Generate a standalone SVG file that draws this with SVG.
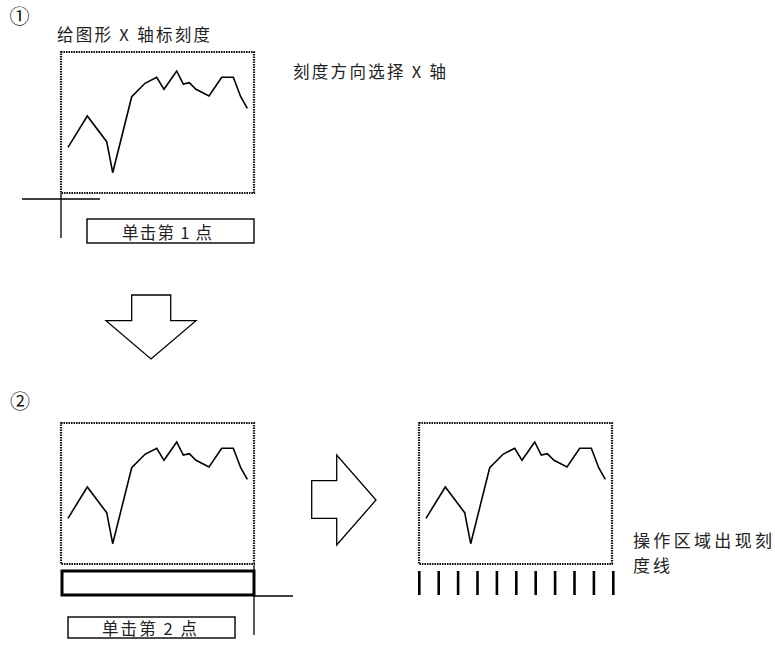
<svg xmlns="http://www.w3.org/2000/svg" xmlns:xlink="http://www.w3.org/1999/xlink" width="775" height="650" viewBox="0 0 775 650">
<style>
  .t { font-family: "Noto Sans CJK SC", "Liberation Serif", sans-serif; font-size: 16.5px; fill: #222; }
  .num { font-family: "Noto Sans CJK SC", "DejaVu Sans", sans-serif; font-size: 20px; fill: #111; }
  .dot { fill: none; stroke: #111; stroke-width: 2.2; stroke-dasharray: 1.6 0.9; }
  .chart { fill: none; stroke: #000; stroke-width: 1.6; stroke-linejoin: miter; }
  .thin { fill: none; stroke: #000; stroke-width: 1.3; }
  .box { fill: #fff; stroke: #000; stroke-width: 1.4; }
  .arrow { fill: #fff; stroke: #000; stroke-width: 1.3; stroke-linejoin: miter; }
  .tick { stroke: #000; stroke-width: 2.6; }
</style>
<defs>
  <g id="graph">
    <rect class="dot" x="61" y="52" width="193" height="141"/>
    <polyline class="chart" points="68,147.3 87.3,116 106.7,141.7 112.7,172.7 131.7,96.7 145,83.3 156.7,77.3 164,89.3 176.7,71 183.3,84 189.3,82.7 196,89.3 209,96 221.7,77.3 233.3,77.3 240.7,96.7 247.3,108.3"/>
  </g>
</defs>
<rect width="775" height="650" fill="#fff"/>

<g id="step1">
  <text class="num" x="19.5" y="24" text-anchor="middle">①</text>
  <text class="t" x="57" y="41" textLength="153" lengthAdjust="spacing">给图形 X 轴标刻度</text>
  <text class="t" x="293" y="78" textLength="153" lengthAdjust="spacing">刻度方向选择 X 轴</text>
</g>
<g id="graph1">
  <use xlink:href="#graph"/>
</g>
<g id="cursor1">
  <line class="thin" x1="22" y1="199" x2="100" y2="199"/>
  <line class="thin" x1="61" y1="193" x2="61" y2="238"/>
</g>
<g id="label1">
  <rect class="box" x="87" y="219" width="167" height="24"/>
  <text class="t" x="122" y="239" textLength="90" lengthAdjust="spacing">单击第 1 点</text>
</g>

<g id="arrowDown">
  <polygon class="arrow" points="131.7,295 170.7,295 170.7,320.7 196,320.7 151,359 106,320.7 131.7,320.7"/>
</g>

<g id="step2">
  <text class="num" x="20" y="409" text-anchor="middle">②</text>
</g>
<g id="graph2">
  <use xlink:href="#graph" transform="translate(0,371)"/>
</g>
<g id="selection">
  <rect x="62" y="571" width="192" height="24" fill="none" stroke="#000" stroke-width="3"/>
</g>
<g id="cursor2">
  <line class="thin" x1="254" y1="596" x2="293" y2="596"/>
  <line class="thin" x1="254" y1="565" x2="254" y2="635"/>
</g>
<g id="label2">
  <rect class="box" x="68" y="617" width="167" height="21"/>
  <text class="t" x="102" y="635" textLength="95" lengthAdjust="spacing">单击第 2 点</text>
</g>

<g id="arrowRight">
  <polygon class="arrow" points="311.7,480.7 336.7,480.7 336.7,455 376,500 336.7,545 336.7,518.3 311.7,518.3"/>
</g>

<g id="graph3">
  <use xlink:href="#graph" transform="translate(358,371)"/>
</g>
<g id="ticks">
  <line class="tick" x1="419.3" y1="571" x2="419.3" y2="595"/>
  <line class="tick" x1="438.7" y1="571" x2="438.7" y2="595"/>
  <line class="tick" x1="458.1" y1="571" x2="458.1" y2="595"/>
  <line class="tick" x1="477.5" y1="571" x2="477.5" y2="595"/>
  <line class="tick" x1="496.9" y1="571" x2="496.9" y2="595"/>
  <line class="tick" x1="516.3" y1="571" x2="516.3" y2="595"/>
  <line class="tick" x1="535.7" y1="571" x2="535.7" y2="595"/>
  <line class="tick" x1="555.1" y1="571" x2="555.1" y2="595"/>
  <line class="tick" x1="574.5" y1="571" x2="574.5" y2="595"/>
  <line class="tick" x1="593.9" y1="571" x2="593.9" y2="595"/>
  <line class="tick" x1="613.3" y1="571" x2="613.3" y2="595"/>
</g>
<g id="result-note">
  <text class="t" x="633" y="547" textLength="139" lengthAdjust="spacing" style="font-size:17px">操作区域出现刻</text>
  <text class="t" x="633" y="572" textLength="37" lengthAdjust="spacing" style="font-size:17px">度线</text>
</g>
</svg>
